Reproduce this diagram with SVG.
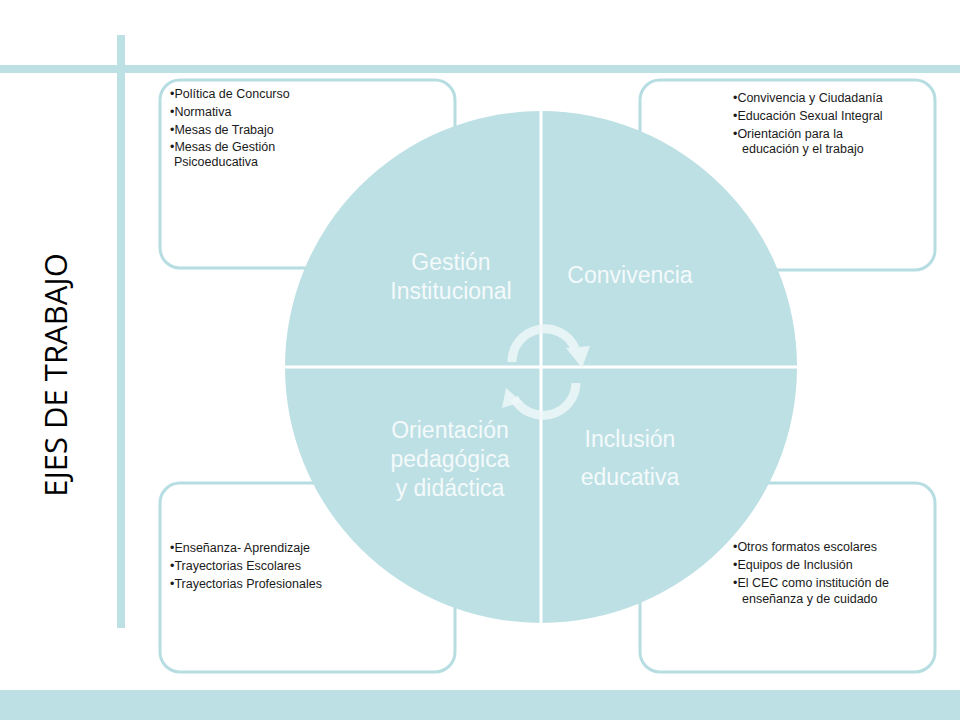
<svg xmlns="http://www.w3.org/2000/svg" width="960" height="720" viewBox="0 0 960 720">
<style>
.band{fill:#bde0e4}
.box{fill:#fff;stroke:#b6dde2;stroke-width:3}
.li{font-family:'Liberation Sans',Arimo,Arial,sans-serif;font-size:12.5px;fill:#1a1a1a}
.big{font-family:'Liberation Sans',Arimo,Arial,sans-serif;font-size:23px;fill:#f4fafb;text-anchor:middle}
.arc{fill:none;stroke:#eef7f8;stroke-width:9;opacity:0.85}
.ah{fill:#eef7f8;opacity:0.85}
</style>
<rect x="0" y="0" width="960" height="720" fill="#fff"/>
<rect class="band" x="0" y="65" width="960" height="8"/>
<rect class="band" x="117" y="35" width="8" height="593"/>
<rect class="band" x="0" y="690" width="960" height="30"/>
<text x="55" y="375" transform="rotate(-90 55 375)" text-anchor="middle" dominant-baseline="central" font-family="Open Sans,sans-serif" font-size="31" fill="#000">EJES DE TRABAJO</text>
<g id="box-tl"><rect class="box" x="160" y="80" width="295" height="188" rx="20"/>
<text class="li" x="170" y="98">•Política de Concurso</text><text class="li" x="170" y="116">•Normativa</text><text class="li" x="170" y="134">•Mesas de  Trabajo</text><text class="li" x="170" y="151">•Mesas de Gestión</text><text class="li" x="174" y="166">Psicoeducativa</text></g>
<g id="box-tr"><rect class="box" x="640" y="80" width="295" height="190" rx="20"/>
<text class="li" x="733" y="102">•Convivencia y Ciudadanía</text><text class="li" x="733" y="120">•Educación Sexual Integral</text><text class="li" x="733" y="138">•Orientación para la</text><text class="li" x="742" y="153">educación y el trabajo</text></g>
<g id="box-bl"><rect class="box" x="160" y="483" width="295" height="189" rx="20"/>
<text class="li" x="170" y="552">•Enseñanza- Aprendizaje</text><text class="li" x="170" y="570">•Trayectorias Escolares</text><text class="li" x="170" y="588">•Trayectorias Profesionales</text></g>
<g id="box-br"><rect class="box" x="640" y="483" width="295" height="189" rx="20"/>
<text class="li" x="733" y="551">•Otros formatos escolares</text><text class="li" x="733" y="569">•Equipos de Inclusión</text><text class="li" x="733" y="587">•El CEC como institución de</text><text class="li" x="742" y="603">enseñanza  y de cuidado</text></g>
<g id="circle">
<circle cx="541" cy="367" r="256" fill="#bde0e4"/>
<line x1="541" y1="111" x2="541" y2="623" stroke="#fff" stroke-width="3"/>
<line x1="285" y1="367" x2="797" y2="367" stroke="#fff" stroke-width="3"/>
</g>
<g id="labels">
<text class="big" x="451" y="270">Gestión</text><text class="big" x="451" y="299">Institucional</text>
<text class="big" x="630" y="283">Convivencia</text>
<text class="big" x="450" y="438">Orientación</text><text class="big" x="450" y="467">pedagógica</text><text class="big" x="450" y="496">y  didáctica</text>
<text class="big" x="630" y="447">Inclusión</text><text class="big" x="630" y="485">educativa</text>
</g>
<g id="connectors">
<path class="arc" d="M512 362 A33 33 0 0 1 575 348"/>
<polygon class="ah" points="566,348 590,346 582,368"/>
<path class="arc" d="M576 383 A33 33 0 0 1 514 398"/>
<polygon class="ah" points="506,388 522,402 502,408"/>
</g>
</svg>
